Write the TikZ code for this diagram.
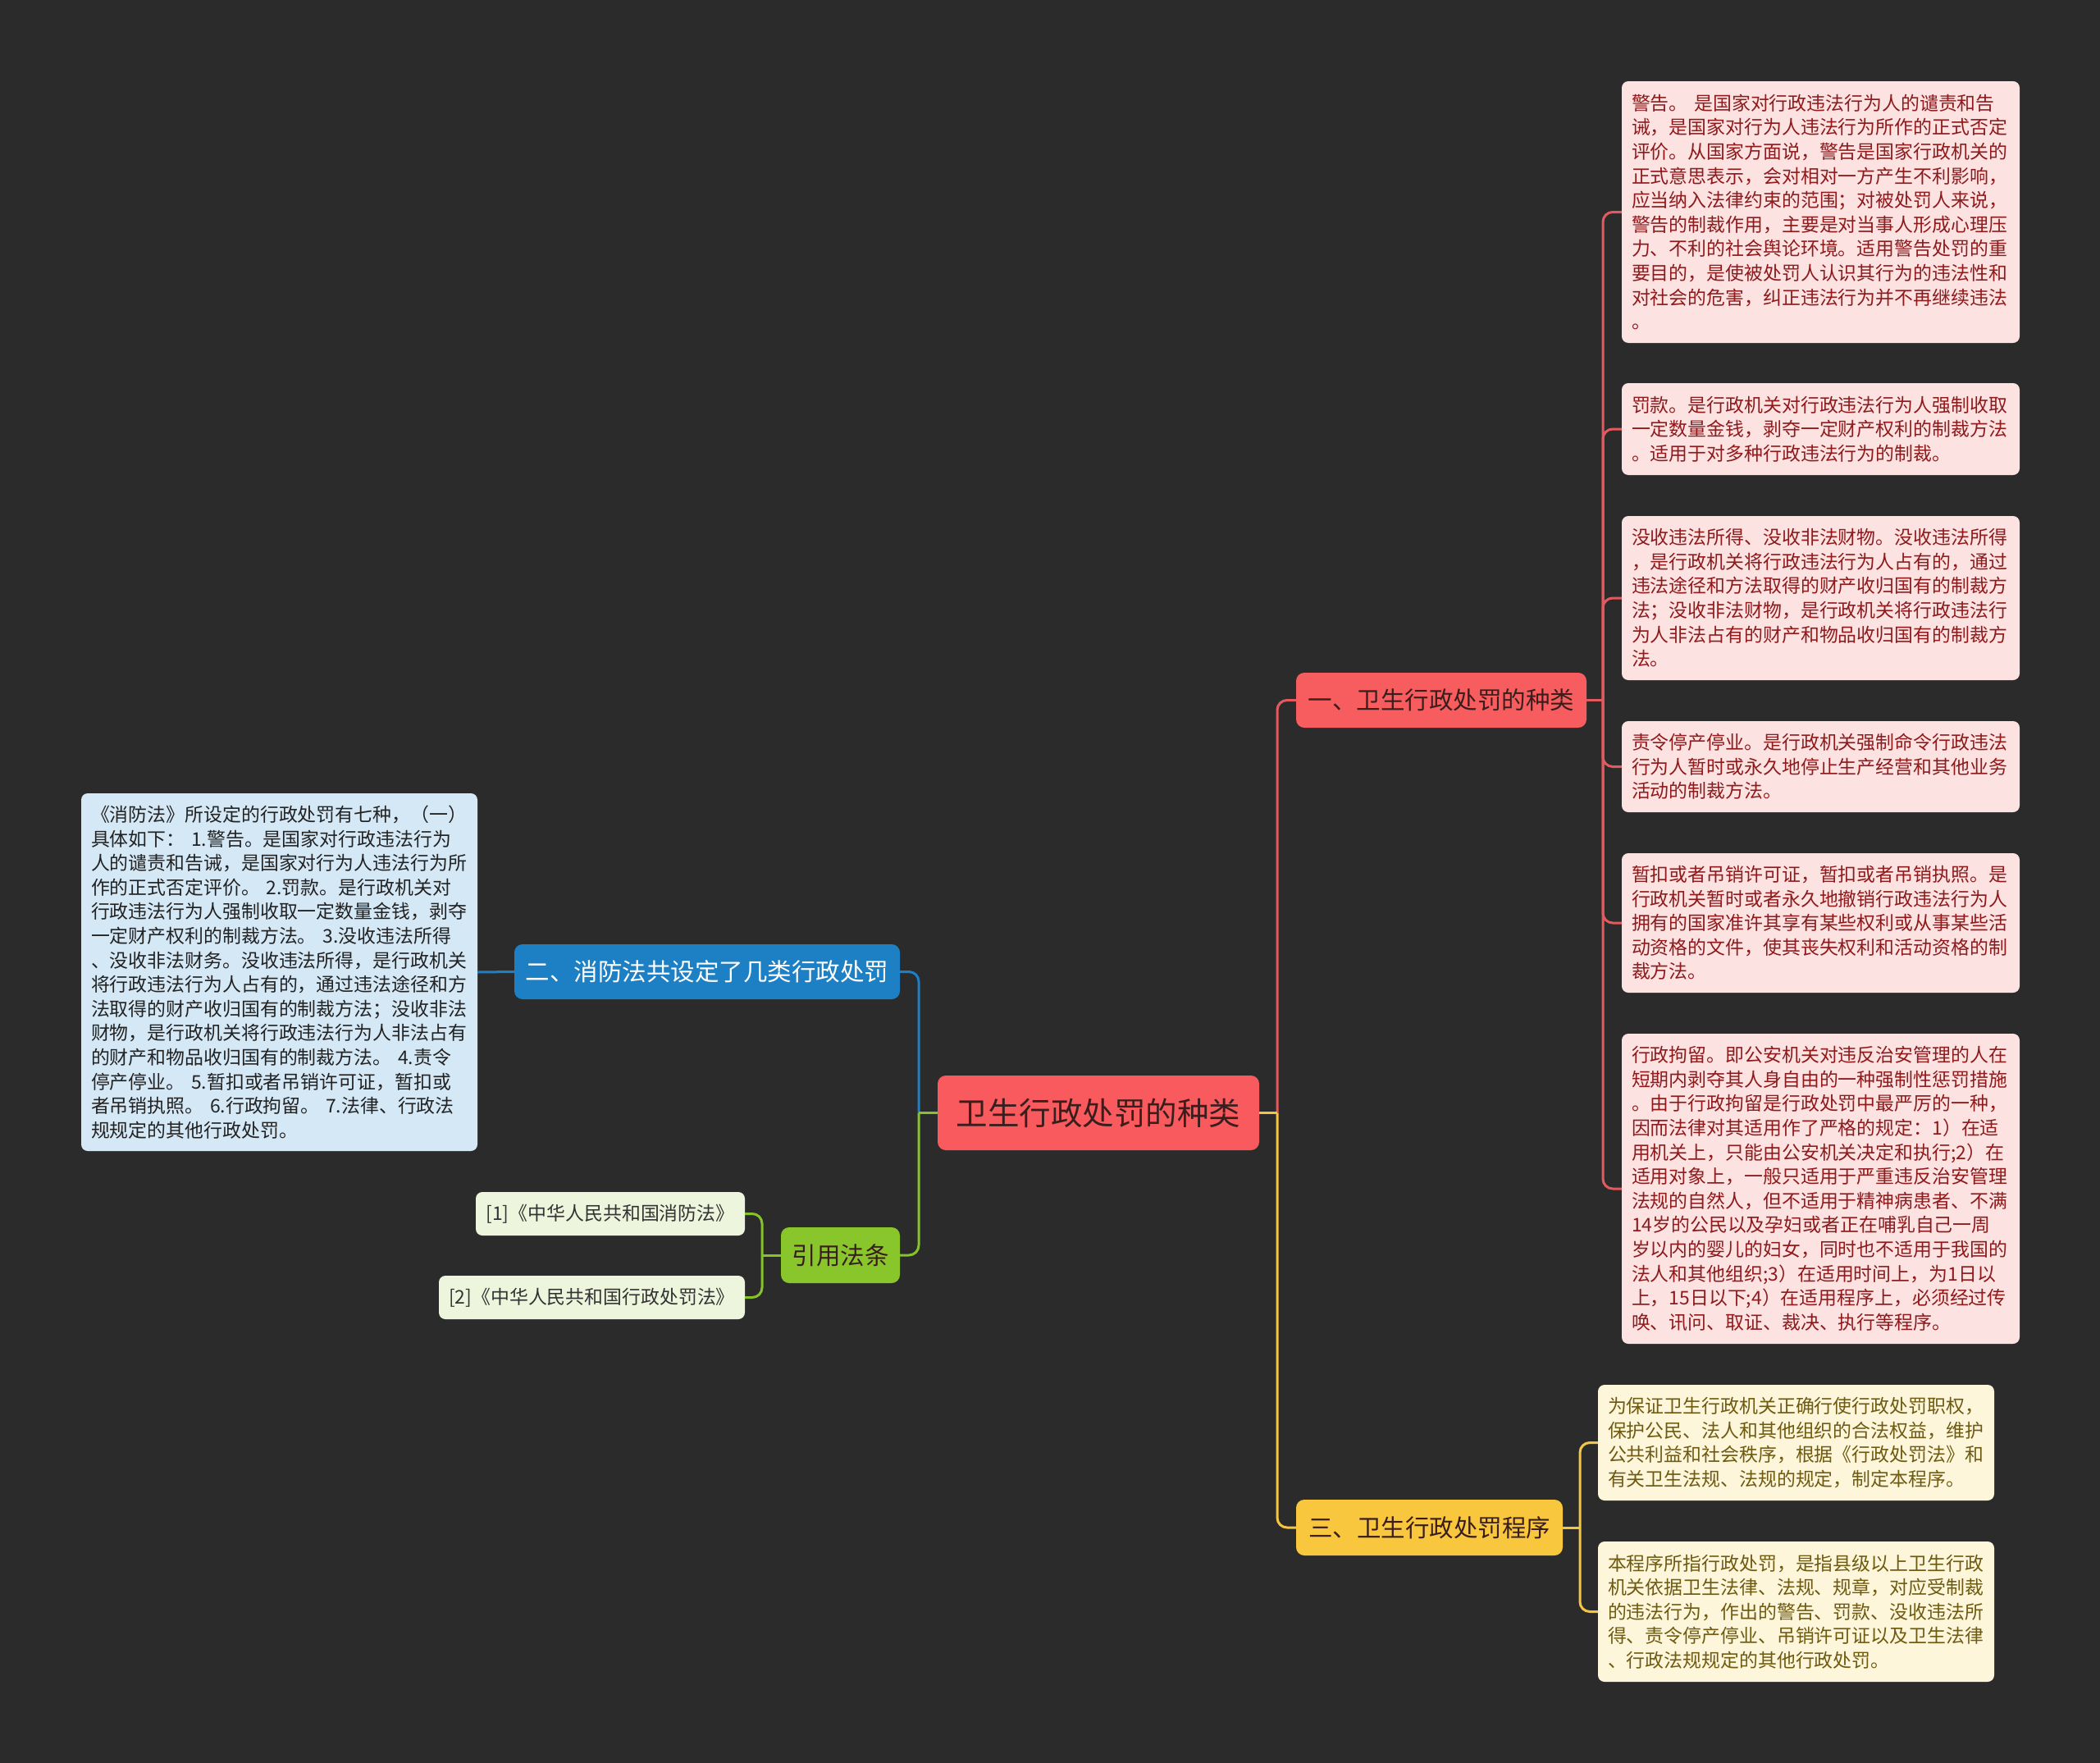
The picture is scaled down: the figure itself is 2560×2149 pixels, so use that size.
\documentclass[tikz,border=0pt]{standalone}
\usepackage{fontspec}
\setmainfont{Noto Sans CJK SC}
\definecolor{bgc}{HTML}{2B2B2B}
\definecolor{rootfill}{HTML}{F85A5D}
\definecolor{redfill}{HTML}{F75C5E}
\definecolor{bluefill}{HTML}{1D7FC4}
\definecolor{yelfill}{HTML}{F9C73D}
\definecolor{grnfill}{HTML}{88C62C}
\definecolor{redline}{HTML}{E35A5E}
\definecolor{blueline}{HTML}{1D7FC4}
\definecolor{yelline}{HTML}{F4C443}
\definecolor{grnline}{HTML}{86C22C}
\definecolor{redleaf}{HTML}{FDE2E2}
\definecolor{redtext}{HTML}{8E1A1C}
\definecolor{yelleaf}{HTML}{FDF6DA}
\definecolor{yeltext}{HTML}{6E5A10}
\definecolor{blueleaf}{HTML}{D5E8F6}
\definecolor{bluetext}{HTML}{222222}
\definecolor{grnleaf}{HTML}{EEF5DD}
\definecolor{grntext}{HTML}{333333}
\definecolor{darktext}{HTML}{3A1E1E}
\newcommand\myleaffont{\fontsize{22.9pt}{29.6pt}\selectfont}
\newcommand\mybranchfont{\fontsize{29.5pt}{34pt}\selectfont}
\newcommand\myrootfont{\fontsize{38.5pt}{44pt}\selectfont}
\tikzset{
  x=1pt, y=-1pt,
  leafbox/.style={rectangle, rounded corners=8pt, align=left, inner xsep=12pt, inner ysep=0pt, font=\myleaffont},
  redleafbox/.style={leafbox, fill=redleaf, text=redtext},
  yelleafbox/.style={leafbox, fill=yelleaf, text=yeltext},
  blueleafbox/.style={leafbox, fill=blueleaf, text=bluetext},
  grnleafbox/.style={rectangle, rounded corners=8pt, inner sep=0pt, font=\myleaffont, fill=grnleaf, text=grntext},
  branchbox/.style={rectangle, rounded corners=10pt, inner sep=0pt, font=\mybranchfont},
  rootbox/.style={rectangle, rounded corners=10pt, inner sep=0pt, font=\myrootfont, fill=rootfill, text=darktext},
  conn/.style={line width=3pt, rounded corners=12pt},
}
\begin{document}
\begin{tikzpicture}
\fill[bgc] (0,0) rectangle (2560,2149);
\useasboundingbox (0,0) rectangle (2560,2149);

% root and branches
\node[rootbox, minimum width=392pt, minimum height=91pt] (root) at (1339,1356.5) {卫生行政处罚的种类};
\node[branchbox, fill=redfill, text=darktext, minimum width=354pt, minimum height=67pt] (b1) at (1757,853.5) {一、卫生行政处罚的种类};
\node[branchbox, fill=bluefill, text=white, minimum width=470pt, minimum height=67pt] (b2) at (862,1184.5) {二、消防法共设定了几类行政处罚};
\node[branchbox, fill=yelfill, text=darktext, minimum width=325pt, minimum height=68pt] (b3) at (1742.5,1862) {三、卫生行政处罚程序};
\node[branchbox, fill=grnfill, text=darktext, minimum width=145pt, minimum height=68pt] (b4) at (1024.5,1530) {引用法条};

% red leaves
\node[redleafbox, text width=461pt, minimum height=319pt] (r1) at (2219.5,258.5) {警告。 是国家对行政违法行为人的谴责和告\\%
诫，是国家对行为人违法行为所作的正式否定\\%
评价。从国家方面说，警告是国家行政机关的\\%
正式意思表示，会对相对一方产生不利影响，\\%
应当纳入法律约束的范围；对被处罚人来说，\\%
警告的制裁作用，主要是对当事人形成心理压\\%
力、不利的社会舆论环境。适用警告处罚的重\\%
要目的，是使被处罚人认识其行为的违法性和\\%
对社会的危害，纠正违法行为并不再继续违法\\%
。};
\node[redleafbox, text width=461pt, minimum height=112pt] (r2) at (2219.5,523) {罚款。是行政机关对行政违法行为人强制收取\\%
一定数量金钱，剥夺一定财产权利的制裁方法\\%
。适用于对多种行政违法行为的制裁。};
\node[redleafbox, text width=461pt, minimum height=200pt] (r3) at (2219.5,729) {没收违法所得、没收非法财物。没收违法所得\\%
，是行政机关将行政违法行为人占有的，通过\\%
违法途径和方法取得的财产收归国有的制裁方\\%
法；没收非法财物，是行政机关将行政违法行\\%
为人非法占有的财产和物品收归国有的制裁方\\%
法。};
\node[redleafbox, text width=461pt, minimum height=111pt] (r4) at (2219.5,934.5) {责令停产停业。是行政机关强制命令行政违法\\%
行为人暂时或永久地停止生产经营和其他业务\\%
活动的制裁方法。};
\node[redleafbox, text width=461pt, minimum height=170pt] (r5) at (2219.5,1125) {暂扣或者吊销许可证，暂扣或者吊销执照。是\\%
行政机关暂时或者永久地撤销行政违法行为人\\%
拥有的国家准许其享有某些权利或从事某些活\\%
动资格的文件，使其丧失权利和活动资格的制\\%
裁方法。};
\node[redleafbox, text width=461pt, minimum height=378pt] (r6) at (2219.5,1449) {行政拘留。即公安机关对违反治安管理的人在\\%
短期内剥夺其人身自由的一种强制性惩罚措施\\%
。由于行政拘留是行政处罚中最严厉的一种，\\%
因而法律对其适用作了严格的规定：1）在适\\%
用机关上，只能由公安机关决定和执行;2）在\\%
适用对象上，一般只适用于严重违反治安管理\\%
法规的自然人，但不适用于精神病患者、不满\\%
14岁的公民以及孕妇或者正在哺乳自己一周\\%
岁以内的婴儿的妇女，同时也不适用于我国的\\%
法人和其他组织;3）在适用时间上，为1日以\\%
上，15日以下;4）在适用程序上，必须经过传\\%
唤、讯问、取证、裁决、执行等程序。};

% yellow leaves
\node[yelleafbox, text width=459pt, minimum height=141pt] (y1) at (2189.5,1758.5) {为保证卫生行政机关正确行使行政处罚职权，\\%
保护公民、法人和其他组织的合法权益，维护\\%
公共利益和社会秩序，根据《行政处罚法》和\\%
有关卫生法规、法规的规定，制定本程序。};
\node[yelleafbox, text width=459pt, minimum height=171pt] (y2) at (2189.5,1964.5) {本程序所指行政处罚，是指县级以上卫生行政\\%
机关依据卫生法律、法规、规章，对应受制裁\\%
的违法行为，作出的警告、罚款、没收违法所\\%
得、责令停产停业、吊销许可证以及卫生法律\\%
、行政法规规定的其他行政处罚。};

% blue leaf
\node[blueleafbox, text width=459pt, minimum height=436pt] (bl) at (340.5,1185) {《消防法》所设定的行政处罚有七种，（一）\\%
具体如下： 1.警告。是国家对行政违法行为\\%
人的谴责和告诫，是国家对行为人违法行为所\\%
作的正式否定评价。 2.罚款。是行政机关对\\%
行政违法行为人强制收取一定数量金钱，剥夺\\%
一定财产权利的制裁方法。 3.没收违法所得\\%
、没收非法财务。没收违法所得，是行政机关\\%
将行政违法行为人占有的，通过违法途径和方\\%
法取得的财产收归国有的制裁方法；没收非法\\%
财物，是行政机关将行政违法行为人非法占有\\%
的财产和物品收归国有的制裁方法。 4.责令\\%
停产停业。 5.暂扣或者吊销许可证，暂扣或\\%
者吊销执照。 6.行政拘留。 7.法律、行政法\\%
规规定的其他行政处罚。};

% green leaves
\node[grnleafbox, minimum width=328pt, minimum height=53pt] (g1) at (744,1479.5) {[1]《中华人民共和国消防法》};
\node[grnleafbox, minimum width=373pt, minimum height=53pt] (g2) at (721.5,1581.5) {[2]《中华人民共和国行政处罚法》};

% bus coordinates
\coordinate (busR) at (1557,1356.5);
\coordinate (busL) at (1120,1356.5);
\coordinate (b1bus) at (1954,853.5);
\coordinate (b3bus) at (1926,1862);
\coordinate (b4bus) at (929,1530);

% connectors root
\draw[conn, redline] (busR) |- (b1.west);
\draw[conn, yelline] (busR) |- (b3.west);
\draw[conn, yelline] (root.east) -- (busR);
\draw[conn, blueline] (busL) |- (b2.east);
\draw[conn, grnline] (busL) |- (b4.east);
\draw[conn, grnline] (root.west) -- (busL);

% branch 1
\draw[conn, redline] (b1.east) -- (b1bus);
\foreach \n in {r1,r2,r3,r4,r5,r6} { \draw[conn, redline] (b1bus) |- (\n.west); }
% branch 2
\draw[conn, blueline] (b2.west) -- (bl.east);
% branch 3
\draw[conn, yelline] (b3.east) -- (b3bus);
\foreach \n in {y1,y2} { \draw[conn, yelline] (b3bus) |- (\n.west); }
% branch 4
\draw[conn, grnline] (b4.west) -- (b4bus);
\foreach \n in {g1,g2} { \draw[conn, grnline] (b4bus) |- (\n.east); }
\end{tikzpicture}
\end{document}
